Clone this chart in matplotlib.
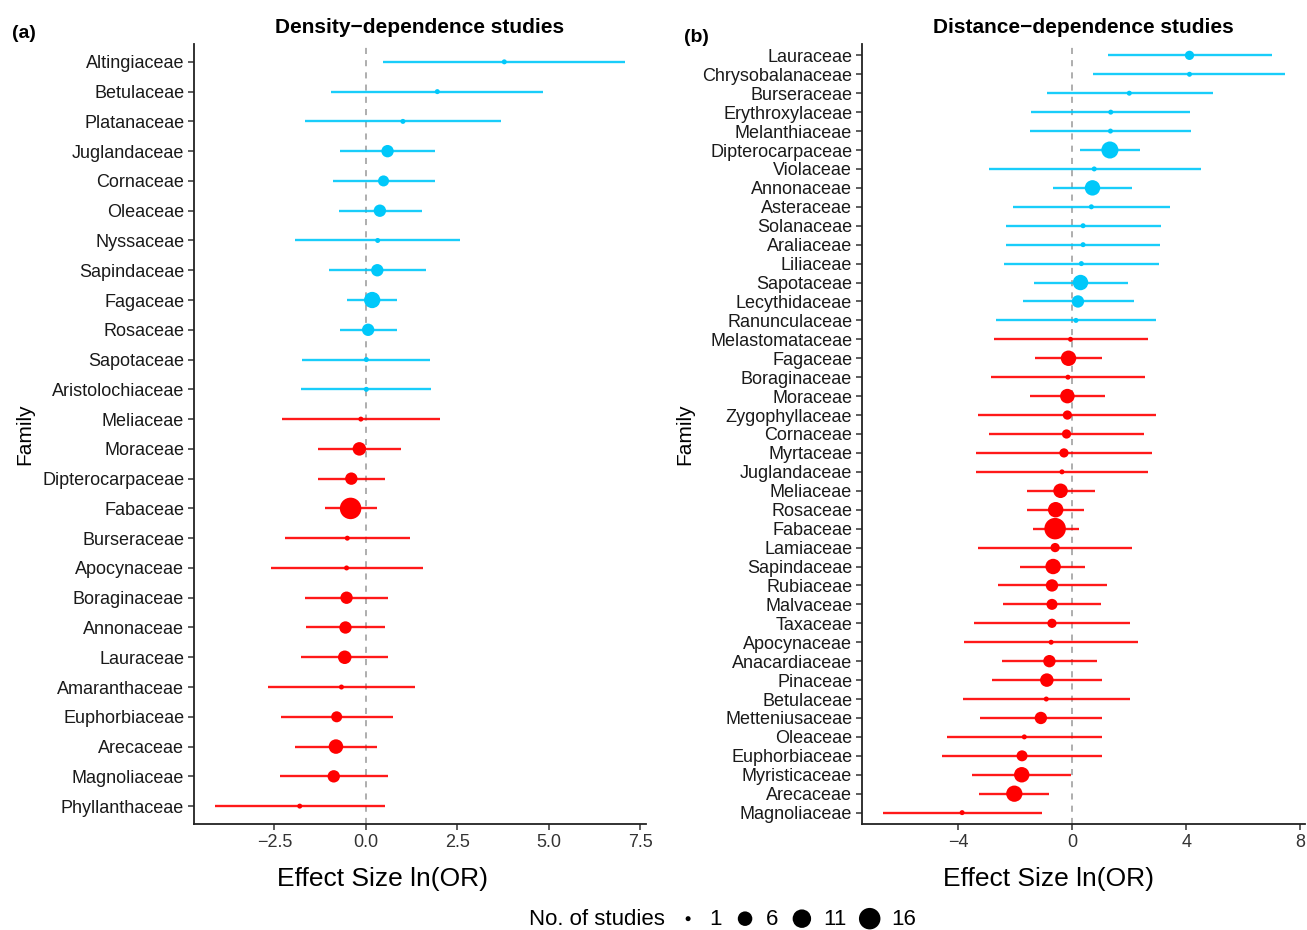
import numpy as np
import matplotlib
matplotlib.use("Agg")
import matplotlib.pyplot as plt

plt.rcParams['font.family'] = ['Liberation Sans', 'DejaVu Sans']

# Панель (a): исследования зависимости от плотности
dens_family = ['Altingiaceae', 'Betulaceae', 'Platanaceae', 'Juglandaceae', 'Cornaceae',
               'Oleaceae', 'Nyssaceae', 'Sapindaceae', 'Fagaceae', 'Rosaceae', 'Sapotaceae',
               'Aristolochiaceae', 'Meliaceae', 'Moraceae', 'Dipterocarpaceae', 'Fabaceae',
               'Burseraceae', 'Apocynaceae', 'Boraginaceae', 'Annonaceae', 'Lauraceae',
               'Amaranthaceae', 'Euphorbiaceae', 'Arecaceae', 'Magnoliaceae', 'Phyllanthaceae']
dens_est = [3.78, 1.95, 1.01, 0.59, 0.48, 0.38, 0.32, 0.31, 0.17, 0.06, 0.01, 0.01,
            -0.14, -0.18, -0.40, -0.42, -0.51, -0.53, -0.53, -0.56, -0.58, -0.67,
            -0.80, -0.82, -0.88, -1.81]
dens_lo = [0.47, -0.96, -1.66, -0.72, -0.90, -0.74, -1.94, -1.02, -0.52, -0.72, -1.74, -1.78,
           -2.30, -1.30, -1.32, -1.11, -2.22, -2.60, -1.66, -1.64, -1.77, -2.68,
           -2.33, -1.93, -2.34, -4.13]
dens_hi = [7.08, 4.85, 3.70, 1.89, 1.88, 1.52, 2.57, 1.65, 0.86, 0.84, 1.75, 1.79,
           2.02, 0.96, 0.52, 0.31, 1.20, 1.56, 0.60, 0.52, 0.60, 1.34,
           0.73, 0.30, 0.59, 0.52]
dens_n = [1, 1, 1, 4, 3, 4, 1, 4, 8, 4, 1, 1, 1, 5, 4, 16, 1, 1, 4, 4, 5, 1, 3, 6, 4, 1]

# Панель (b): исследования зависимости от расстояния
dist_family = ['Lauraceae', 'Chrysobalanaceae', 'Burseraceae', 'Erythroxylaceae', 'Melanthiaceae',
               'Dipterocarpaceae', 'Violaceae', 'Annonaceae', 'Asteraceae', 'Solanaceae',
               'Araliaceae', 'Liliaceae', 'Sapotaceae', 'Lecythidaceae', 'Ranunculaceae',
               'Melastomataceae', 'Fagaceae', 'Boraginaceae', 'Moraceae', 'Zygophyllaceae',
               'Cornaceae', 'Myrtaceae', 'Juglandaceae', 'Meliaceae', 'Rosaceae', 'Fabaceae',
               'Lamiaceae', 'Sapindaceae', 'Rubiaceae', 'Malvaceae', 'Taxaceae', 'Apocynaceae',
               'Anacardiaceae', 'Pinaceae', 'Betulaceae', 'Metteniusaceae', 'Oleaceae',
               'Euphorbiaceae', 'Myristicaceae', 'Arecaceae', 'Magnoliaceae']
dist_est = [4.11, 4.11, 2.00, 1.35, 1.34, 1.32, 0.77, 0.71, 0.67, 0.38, 0.38, 0.32, 0.29,
            0.20, 0.13, -0.06, -0.13, -0.15, -0.17, -0.17, -0.20, -0.29, -0.36, -0.41,
            -0.58, -0.60, -0.60, -0.67, -0.71, -0.71, -0.71, -0.74, -0.80, -0.89, -0.91,
            -1.10, -1.68, -1.76, -1.77, -2.03, -3.86]
dist_lo = [1.25, 0.74, -0.90, -1.44, -1.48, 0.28, -2.93, -0.67, -2.06, -2.32, -2.32, -2.38,
           -1.35, -1.73, -2.66, -2.74, -1.29, -2.85, -1.47, -3.30, -2.90, -3.37, -3.37,
           -1.60, -1.57, -1.39, -3.30, -1.82, -2.61, -2.43, -3.44, -3.79, -2.47, -2.80,
           -3.82, -3.24, -4.40, -4.55, -3.53, -3.27, -6.64]
dist_hi = [6.99, 7.46, 4.95, 4.12, 4.15, 2.38, 4.50, 2.11, 3.41, 3.11, 3.08, 3.04, 1.95,
           2.15, 2.93, 2.66, 1.06, 2.54, 1.15, 2.93, 2.51, 2.79, 2.66, 0.80, 0.42, 0.22,
           2.09, 0.45, 1.21, 1.02, 2.02, 2.31, 0.87, 1.03, 2.02, 1.03, 1.03, 1.03, -0.03,
           -0.80, -1.06]
dist_n = [2, 1, 1, 1, 1, 9, 1, 7, 1, 1, 1, 1, 7, 4, 1, 1, 7, 1, 6, 2, 2, 2, 1, 6, 7, 16,
          2, 7, 4, 3, 2, 1, 4, 5, 1, 4, 1, 3, 7, 8, 1]

legend_n = [1, 6, 11, 16]

BLUE = '#00C8FA'
RED = '#FF0000'


def marker_area(n):
    # площадь точки растёт как sqrt(n), диаметр от ~5 до ~21.5 px
    n = np.asarray(n, dtype=float)
    d_px = 5.0 + 16.5 * np.sqrt((n - 1) / 15)
    d_pt = d_px * 72 / 100
    return d_pt ** 2


def forest(ax, fam, est, lo, hi, n, xlim, xticks, xticklabels, title, xlab_x):
    y = np.arange(len(fam))
    cols = [BLUE if e >= 0 else RED for e in est]
    ax.axvline(0, color='#999999', ls=(0, (4, 4)), lw=1.1, zorder=1)
    ax.hlines(y, lo, hi, colors=cols, lw=1.7, alpha=0.9, zorder=2)
    ax.scatter(est, y, s=marker_area(n), c=cols, edgecolors='none', zorder=3)
    ax.set_yticks(y)
    ax.set_yticklabels(fam, fontsize=13)
    ax.set_ylim(len(fam) - 0.4, -0.6)
    ax.set_xlim(*xlim)
    ax.set_xticks(xticks)
    ax.set_xticklabels(xticklabels, fontsize=13, color='#333333')
    ax.set_xlabel('Effect Size ln(OR)', fontsize=19)
    ax.xaxis.set_label_coords(xlab_x, -0.055)
    ax.set_ylabel('Family', fontsize=15, labelpad=6)
    ax.set_title(title, fontsize=15, fontweight='bold', pad=8)
    for s in ['top', 'right']:
        ax.spines[s].set_visible(False)
    for s in ['left', 'bottom']:
        ax.spines[s].set_linewidth(1.3)
        ax.spines[s].set_color('#222222')
    ax.tick_params(axis='both', length=4, width=1.1, color='#333333', pad=3)
    ax.tick_params(axis='y', labelcolor='#1a1a1a')


fig = plt.figure(figsize=(13.07, 9.3), dpi=100)
ax1 = fig.add_axes([0.1484, 0.1140, 0.3458, 0.8387])
ax2 = fig.add_axes([0.6595, 0.1140, 0.3390, 0.8387])

forest(ax1, dens_family, dens_est, dens_lo, dens_hi, dens_n, (-4.70, 7.65),
       [-2.5, 0, 2.5, 5, 7.5], ['\u22122.5', '0.0', '2.5', '5.0', '7.5'],
       'Density\u2212dependence studies', 0.418)
forest(ax2, dist_family, dist_est, dist_lo, dist_hi, dist_n, (-7.37, 8.16),
       [-4, 0, 4, 8], ['\u22124', '0', '4', '8'],
       'Distance\u2212dependence studies', 0.42)

fig.text(12 / 1307, 1 - 34 / 930, '(a)', fontsize=14, fontweight='bold', va='center')
fig.text(684 / 1307, 1 - 37 / 930, '(b)', fontsize=14, fontweight='bold', va='center')

# легенда размера точек
fig.text(665 / 1307, 1 - 919 / 930, 'No. of studies', fontsize=16, ha='right', va='center')
handles = [plt.scatter([], [], s=marker_area([k])[0], c='black', edgecolors='none') for k in legend_n]
fig.legend(handles, [str(k) for k in legend_n], loc='center left',
           bbox_to_anchor=(677 / 1307, 1 - 919 / 930), ncol=4, frameon=False,
           fontsize=16, handletextpad=0.45, columnspacing=0.55, handlelength=1.0,
           borderpad=0, borderaxespad=0)

fig.savefig('out.png', dpi=100)
